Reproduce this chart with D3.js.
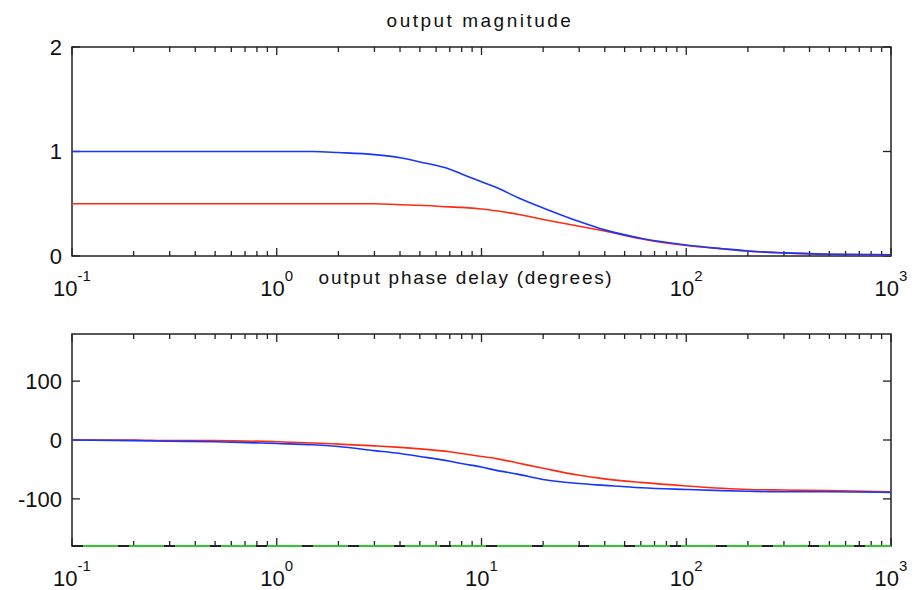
<!DOCTYPE html>
<html>
<head>
<meta charset="utf-8">
<script src="https://cdn.jsdelivr.net/npm/d3@7"></script>
<style>
  body { margin: 0; background: #fff; }
  text { font-family: "Liberation Sans", Arial, sans-serif; fill: #111; }
</style>
</head>
<body>
<script>
// frequency grid
const freq = [0.1, 0.2, 0.3, 0.5, 1, 1.5, 2, 3, 4, 5, 7, 8, 10, 12, 15, 20, 30, 40, 60, 100, 150, 200, 300, 500, 1000];

// output magnitude
const magBlue = [1.0, 1.0, 1.0, 1.0, 1.0, 1.0, 0.99, 0.97, 0.94, 0.90, 0.83, 0.785, 0.71, 0.65, 0.56, 0.46, 0.33, 0.25, 0.17, 0.105, 0.07, 0.048, 0.03, 0.017, 0.012];
const magRed = [0.5, 0.5, 0.5, 0.5, 0.5, 0.5, 0.5, 0.5, 0.49, 0.485, 0.47, 0.465, 0.45, 0.43, 0.40, 0.35, 0.285, 0.24, 0.165, 0.10, 0.068, 0.047, 0.03, 0.017, 0.012];

// output phase delay (degrees)
const phaseBlue = [0, -1, -2, -3, -6, -8, -11, -18, -23, -28, -36, -40, -46, -52, -58, -67, -74, -77, -81, -84, -86, -87, -88, -88, -89];
const phaseRed = [0, 0, -1, -1, -3, -5, -7, -10, -12.5, -15, -20, -23, -28, -32, -39, -48, -60, -66, -72, -78, -82, -84, -85, -86, -88];
const floorFreq = [0.1, 1000];
const floorPhase = [-180, -180];

const xTickExp = [-1, 0, 1, 2, 3];
const magTicks = [0, 1, 2];
const phaseTicks = [-100, 0, 100];
// the 10^1 label of the top plot is hidden under the lower title
const magXLabels = [-1, 0, 2, 3];

const width = 916, height = 590;
const svg = d3.select("body").append("svg")
    .attr("width", width)
    .attr("height", height);

const x = d3.scaleLog().domain([0.1, 1000]).range([72, 891]);

// minor ticks 2..9 in every decade
let minor = [];
xTickExp.slice(0, -1).forEach(e => {
    for (let k = 2; k <= 9; k++) minor.push(k * Math.pow(10, e));
});

function panel(y0, y1, yDomain, yTicks, xLabels, title, titleX, titleY, spacing) {
    const y = d3.scaleLinear().domain(yDomain).range([y1, y0]);
    const g = svg.append("g");

    // box
    g.append("rect")
        .attr("x", x.range()[0]).attr("y", y0)
        .attr("width", x.range()[1] - x.range()[0])
        .attr("height", y1 - y0)
        .attr("fill", "none")
        .attr("stroke", "#222")
        .attr("stroke-width", 1.5);

    // x ticks, inward on bottom and top
    const majors = xTickExp.map(e => Math.pow(10, e));
    [[y1, -1], [y0, 1]].forEach(([yy, dir]) => {
        g.selectAll(null).data(majors).enter().append("line")
            .attr("x1", d => x(d)).attr("x2", d => x(d))
            .attr("y1", yy).attr("y2", yy + dir * 8)
            .attr("stroke", "#222").attr("stroke-width", 1.3);
        g.selectAll(null).data(minor).enter().append("line")
            .attr("x1", d => x(d)).attr("x2", d => x(d))
            .attr("y1", yy).attr("y2", yy + dir * 5)
            .attr("stroke", "#222").attr("stroke-width", 1.3);
    });

    // y ticks, inward on left and right
    [[x.range()[0], 1], [x.range()[1], -1]].forEach(([xx, dir]) => {
        g.selectAll(null).data(yTicks).enter().append("line")
            .attr("x1", xx).attr("x2", xx + dir * 8)
            .attr("y1", d => y(d)).attr("y2", d => y(d))
            .attr("stroke", "#222").attr("stroke-width", 1.3);
    });

    // y labels
    g.selectAll(null).data(yTicks).enter().append("text")
        .attr("x", 62)
        .attr("y", d => y(d))
        .attr("dy", "0.36em")
        .attr("text-anchor", "end")
        .style("font-size", "22px")
        .text(d => d);

    // x labels 10^e
    const xl = g.selectAll(null).data(xLabels).enter().append("text")
        .attr("x", d => x(Math.pow(10, d)))
        .attr("y", y1 + 40)
        .attr("text-anchor", "middle")
        .style("font-size", "22px");
    xl.append("tspan").text("10");
    xl.append("tspan")
        .attr("dy", -15)
        .style("font-size", "15px")
        .text(d => d);

    svg.append("text")
        .attr("x", titleX)
        .attr("y", titleY)
        .attr("text-anchor", "middle")
        .style("font-size", "19px")
        .style("letter-spacing", spacing + "px")
        .text(title);

    return { g, y };
}

function drawLine(p, xs, ys, color, dash) {
    const line = d3.line()
        .x(d => x(d[0]))
        .y(d => p.y(d[1]))
        .curve(d3.curveMonotoneX);
    p.g.append("path")
        .datum(xs.map((f, i) => [f, ys[i]]))
        .attr("d", line)
        .attr("fill", "none")
        .attr("stroke", color)
        .attr("stroke-width", dash ? 2 : 1.6)
        .attr("stroke-dasharray", dash || null);
}

const magPanel = panel(47, 256, [0, 2], magTicks, magXLabels, "output magnitude", 480, 27, 2.5);
drawLine(magPanel, freq, magRed, "#ff2a10");
drawLine(magPanel, freq, magBlue, "#1636ff");

const phasePanel = panel(334, 546, [-180, 180], phaseTicks, xTickExp, "output phase delay (degrees)", 466, 284, 1.7);
drawLine(phasePanel, freq, phaseRed, "#ff2a10");
drawLine(phasePanel, freq, phaseBlue, "#1636ff");
drawLine(phasePanel, floorFreq, floorPhase, "#22ee22");
drawLine(phasePanel, floorFreq, floorPhase, "#222", "11,35");
</script>
</body>
</html>
